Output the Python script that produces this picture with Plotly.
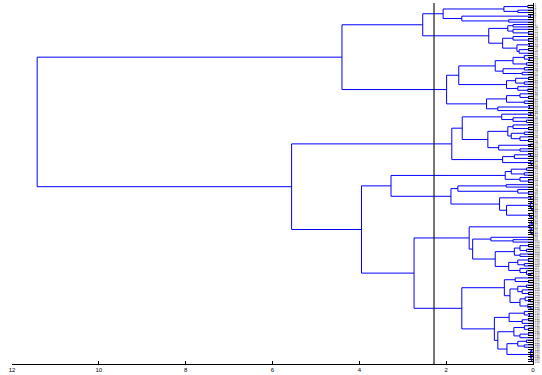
import plotly.graph_objects as go

# ---- data: dendrogram tree ----
# node = [merge height, left child, right child]; leaf = L
L = 0

A1a = [2.07,
       [0.67, [0.12, L, L], [0.35, L, L]],
       [1.64, [0.06, L, L], [0.56, L, L]]]
A1b = [1.02,
       [0.58, [0.46, L, L], [0.46, L, [0.10, L, L]]],
       [0.70, [0.46, L, [0.10, L, L]], [0.37, [0.08, L, L], [0.32, [0.10, L, L], L]]]]
A2a1 = [0.87,
        [0.46, [0.20, L, [0.08, L, L]], [0.15, L, L]],
        [0.69, [0.20, L, L], [0.25, L, L]]]
A2a2 = [0.61, [0.40, [0.10, L, L], [0.20, L, L]], [0.35, L, [0.12, L, L]]]
A2b = [1.07, [0.61, [0.30, L, [0.10, L, L]], [0.20, L, L]], [0.81, [0.08, L, L], L]]
A = [4.40, [2.54, A1a, A1b], [1.99, [1.71, A2a1, A2a2], A2b]]

B1a1 = [0.72, [0.05, L, L], [0.46, L, [0.15, L, L]]]
B1a2 = [1.04,
        [0.58, [0.46, L, [0.10, L, L]], [0.50, [0.20, L, L], [0.30, L, [0.10, L, L]]]],
        [0.79, [0.06, L, L], [0.30, L, L]]]
B1b = [0.70, [0.43, [0.06, L, L], L], [0.05, L, [0.03, L, L]]]
B1 = [1.87, [1.63, B1a1, B1a2], B1b]

B2a1 = [0.64, [0.50, [0.15, L, L], [0.20, L, L]], [0.30, L, [0.10, L, L]]]
B2a21 = [1.73, [0.62, L, L], [0.35, L, [0.10, L, L]]]
B2a22 = [0.77, [0.05, L, L],
         [0.61, [0.06, [0.03, L, L], [0.04, L, [0.02, L, L]]], [0.08, L, [0.04, L, L]]]]
B2a = [3.27, B2a1, [1.89, B2a21, B2a22]]

B2b1 = [1.47,
        [0.07, [0.04, L, [0.02, L, L]], [0.05, [0.03, L, L], [0.02, L, L]]],
        [1.39,
         [0.97, L, [0.46, L, L]],
         [0.87,
          [0.43, [0.30, [0.10, L, L], [0.15, L, L]], [0.30, L, L]],
          [0.56, [0.35, [0.10, L, L], [0.20, L, L]], [0.30, L, [0.15, L, [0.05, L, L]]]]]]]
B2b21 = [0.66, [0.41, L, [0.10, L, L]],
         [0.53, [0.35, [0.15, L, L], [0.25, L, [0.10, L, L]]],
          [0.30, [0.18, L, [0.06, L, L]], [0.12, L, [0.05, L, L]]]]]
B2b22 = [0.89,
         [0.55, [0.20, L, [0.08, L, L]], [0.25, [0.10, L, L], L]],
         [0.81,
          [0.44, [0.20, L, [0.10, L, L]], [0.30, [0.10, L, L], L]],
          [0.60, [0.35, [0.15, L, L], [0.20, L, L]],
           [0.06, [0.03, L, L], [0.04, [0.02, L, L], [0.03, L, L]]]]]]
B2b = [2.74, B2b1, [1.64, B2b21, B2b22]]
B = [5.56, B1, [3.95, B2a, B2b]]

root = [11.42, A, B]

cut_height = 2.28
x_ticks = [0, 2, 4, 6, 8, 10, 12]

# ---- build link coordinates ----
xs, ys = [], []
counter = [0]


def walk(node):
    if not isinstance(node, list):
        counter[0] += 1
        return float(counter[0]), 0.0
    h, a, b = node
    ya, ha = walk(a)
    yb, hb = walk(b)
    xs.extend([ha, h, h, hb, None])
    ys.extend([ya, ya, yb, yb, None])
    return (ya + yb) / 2.0, h


walk(root)
n_leaves = counter[0]
leaf_pos = list(range(1, n_leaves + 1))
leaf_labels = [str(i) for i in leaf_pos]

fig = go.Figure()
fig.add_trace(go.Scatter(x=xs, y=ys, mode="lines",
                         line=dict(color="#0000ff", width=1),
                         hoverinfo="skip", showlegend=False))

fig.add_shape(type="line", xref="x", yref="paper", x0=cut_height, x1=cut_height,
              y0=0, y1=1, line=dict(color="#1a1a1a", width=1.2))

fig.update_layout(
    width=542, height=375,
    margin=dict(l=12, r=9, t=3, b=11),
    paper_bgcolor="white", plot_bgcolor="white",
    font=dict(family="Liberation Sans, Arial, sans-serif", color="black"),
    showlegend=False,
)
fig.update_xaxes(range=[12, 0], tickvals=x_ticks, ticktext=[str(v) for v in x_ticks],
                 showgrid=False, zeroline=False, showline=True, linecolor="black",
                 linewidth=1, ticks="inside", ticklen=3, tickcolor="black",
                 tickfont=dict(size=6), ticklabelstandoff=0, automargin=False)
fig.update_yaxes(range=[n_leaves + 1, 0], tickvals=leaf_pos, ticktext=leaf_labels,
                 side="right", showgrid=False, zeroline=False, showline=True,
                 linecolor="black", linewidth=1, ticks="inside", ticklen=5,
                 tickcolor="black", tickfont=dict(size=3, color="#555"),
                 automargin=False)

fig.write_html("out.html", config={"displayModeBar": False},
               post_script="document.body.style.margin='0';document.body.style.padding='0';")
